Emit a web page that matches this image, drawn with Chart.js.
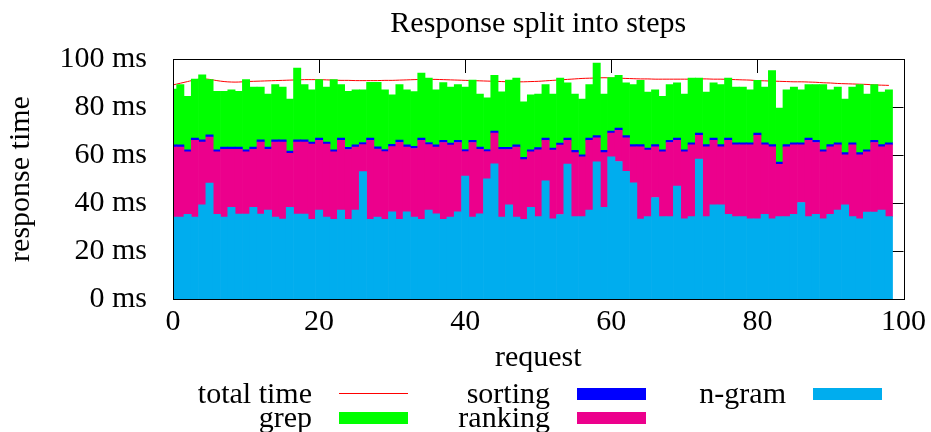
<!DOCTYPE html>
<html>
<head>
<meta charset="utf-8">
<script src="https://cdn.jsdelivr.net/npm/chart.js@4/dist/chart.umd.min.js"></script>
<style>
  html, body { margin: 0; padding: 0; background: #ffffff; }
  #wrap { width: 931px; height: 432px; position: relative; }
</style>
</head>
<body>
<div id="wrap"><canvas id="c" width="931" height="432"></canvas></div>
<script>
// ---- data ----
const requests = [0,1,2,3,4,5,6,7,8,9,10,11,12,13,14,15,16,17,18,19,20,21,22,23,24,25,26,27,28,29,30,31,32,33,34,35,36,37,38,39,40,41,42,43,44,45,46,47,48,49,50,51,52,53,54,55,56,57,58,59,60,61,62,63,64,65,66,67,68,69,70,71,72,73,74,75,76,77,78,79,80,81,82,83,84,85,86,87,88,89,90,91,92,93,94,95,96,97,98];

const ngram = [34.1,34.1,35.3,34.1,39.2,48.3,35.3,34.1,38.2,35.4,35.4,38.2,35.4,37.1,34.1,33.3,38.2,35.4,35.4,33.2,
  37.1,34.1,33.2,37.1,33.2,37.1,53.1,33.2,34.1,33.2,36.3,33.2,36.3,34.1,33.2,37.1,35.5,33.2,34.1,36.3,
  51.2,34.1,35.5,50.1,56.3,34.1,39.2,34.1,33.2,38.2,34.3,49.2,33.4,35.2,56.2,34.3,34.3,37.1,57.2,38.2,
  59.2,57.3,53.2,48.4,33.3,34.3,42.3,34.3,34.3,47.1,33.4,34.3,58.3,34.3,39.2,39.2,35.3,34.3,34.3,33.4,
  33.4,35.3,33.4,34.3,34.3,35.3,40.2,34.3,35.3,33.4,35.3,37.1,39.2,34.3,33.4,36.2,36.2,37.1,34.3];

const ranking = [29.2,29.2,26.0,32.0,26.2,19.2,26.0,28.3,24.2,27.0,25.9,24.2,30.0,25.3,31.3,32.1,22.5,30.0,30.0,31.3,
  29.0,30.4,28.1,29.0,29.1,26.2,11.2,32.9,28.4,28.2,27.2,32.1,27.0,28.6,32.9,27.2,27.8,32.0,30.0,28.9,
  10.2,31.1,26.9,11.3,12.8,28.2,23.1,29.2,24.9,23.1,27.9,16.9,28.6,28.9,9.9,26.7,24.9,29.0,10.0,22.8,
  9.9,13.0,14.0,15.0,30.1,27.7,21.1,27.0,30.9,19.0,27.9,29.9,9.9,29.1,26.9,24.2,30.8,29.9,29.9,30.8,
  34.8,28.9,30.0,21.8,29.1,28.9,24.0,31.8,29.9,27.9,28.1,27.1,20.9,29.9,26.7,25.1,29.0,26.3,29.9];

const sorting = [0.9,0.9,0.9,0.9,0.9,0.9,0.9,0.9,0.9,0.9,0.9,0.9,0.9,0.9,0.9,0.9,0.9,0.9,0.9,0.9,
  0.9,0.9,0.9,0.9,0.9,0.9,0.9,0.9,0.9,0.9,0.9,0.9,0.9,0.9,0.9,0.9,0.9,0.9,0.9,0.9,
  0.9,0.9,0.9,0.9,0.9,0.9,0.9,0.9,0.9,0.9,0.9,0.9,0.9,0.9,0.9,0.9,0.9,0.9,0.9,0.9,
  0.9,0.9,0.9,0.9,0.9,0.9,0.9,0.9,0.9,0.9,0.9,0.9,0.9,0.9,0.9,0.9,0.9,0.9,0.9,0.9,
  0.9,0.9,0.9,0.9,0.9,0.9,0.9,0.9,0.9,0.9,0.9,0.9,0.9,0.9,0.9,0.9,0.9,0.9,0.9];

const grep = [23.3,25.1,22.2,24.6,27.1,23.0,24.3,23.2,23.9,23.2,29.2,25.0,22.0,22.1,23.0,22.0,21.7,29.9,23.0,21.8,
  24.4,22.9,29.2,22.3,23.3,23.0,22.0,23.3,26.9,24.9,20.7,23.1,23.0,22.8,27.1,26.9,23.0,24.1,23.3,23.2,
  26.0,25.1,22.1,21.5,23.2,23.1,28.0,27.9,23.2,22.9,22.3,22.3,22.5,27.1,23.1,23.5,23.2,22.3,30.2,23.5,
  22.3,22.0,22.0,25.0,26.8,23.3,22.9,22.2,23.2,23.1,23.2,27.0,23.0,21.9,23.1,25.0,25.1,23.2,23.2,22.1,
  22.0,23.2,30.9,22.5,22.9,23.2,22.1,22.3,23.2,27.1,22.9,23.2,22.3,23.2,28.3,23.2,23.2,21.9,22.1];

const totalTime = [89.2,89.9,90.6,91.3,91.7,91.5,91.0,90.6,90.4,90.4,90.6,90.7,90.8,90.9,91.0,91.1,91.2,91.3,91.4,91.4,
  91.4,91.3,91.2,91.1,91.1,91.0,91.0,91.0,91.0,91.1,91.1,91.2,91.3,91.4,91.5,91.5,91.5,91.4,91.3,91.2,
  91.1,91.0,90.9,90.8,90.7,90.6,90.5,90.5,90.5,90.6,90.7,90.9,91.1,91.3,91.5,91.7,91.9,92.0,92.1,92.2,
  92.1,92.0,91.9,91.8,91.7,91.7,91.6,91.6,91.6,91.6,91.6,91.6,91.7,91.7,91.6,91.6,91.5,91.4,91.3,91.2,
  91.0,90.9,90.8,90.7,90.6,90.5,90.5,90.4,90.3,90.1,90.0,89.8,89.7,89.6,89.5,89.4,89.2,89.1,89.0];

const yTickLabels = {0: '0 ms', 20: '20 ms', 40: '40 ms', 60: '60 ms', 80: '80 ms', 100: '100 ms'};
const seriesNames = {total: 'total time', grep: 'grep', sorting: 'sorting', ranking: 'ranking', ngram: 'n-gram'};

// ---- styling ----
const FONT = '"Liberation Serif", "Times New Roman", serif';
const COLORS = { total: '#ff0000', grep: '#00ff00', sorting: '#0000ff', ranking: '#ec008c', ngram: '#00adee' };

function barDs(label, data, color) {
  return { type: 'bar', label, data, backgroundColor: color, borderWidth: 0,
           barPercentage: 1.0, categoryPercentage: 1.0, order: 1 };
}

const datasets = [
  barDs(seriesNames.ngram, ngram, COLORS.ngram),
  barDs(seriesNames.ranking, ranking, COLORS.ranking),
  barDs(seriesNames.sorting, sorting, COLORS.sorting),
  barDs(seriesNames.grep, grep, COLORS.grep),
  { type: 'line', label: seriesNames.total, data: totalTime, borderColor: COLORS.total,
    borderWidth: 1, pointRadius: 0, tension: 0.4, fill: false, stack: 'total', order: 2 }
];

// inward ticks (behind bars), border box, custom gnuplot-like legend
const framePlugin = {
  id: 'frame',
  beforeDatasetsDraw(chart) {
    const ctx = chart.ctx, a = chart.chartArea;
    const xs = chart.scales.x, ys = chart.scales.y;
    ctx.save();
    ctx.strokeStyle = '#000';
    ctx.lineWidth = 1;
    ctx.beginPath();
    xs.ticks.forEach(t => {
      const px = Math.round(xs.getPixelForValue(t.value)) + 0.5;
      ctx.moveTo(px, a.top); ctx.lineTo(px, a.top + 14);
      ctx.moveTo(px, a.bottom); ctx.lineTo(px, a.bottom - 14);
    });
    ys.ticks.forEach(t => {
      const py = Math.round(ys.getPixelForValue(t.value)) + 0.5;
      ctx.moveTo(a.right, py); ctx.lineTo(a.right - 14, py);
      ctx.moveTo(a.left, py); ctx.lineTo(a.left + 14, py);
    });
    ctx.stroke();
    ctx.restore();
  },
  afterDatasetsDraw(chart) {
    const ctx = chart.ctx, a = chart.chartArea;
    ctx.save();
    ctx.strokeStyle = '#000';
    ctx.lineWidth = 1;
    ctx.strokeRect(Math.round(a.left) + 0.5, Math.round(a.top) + 0.5,
                   Math.round(a.right - a.left), Math.round(a.bottom - a.top));
    ctx.restore();
  },
  afterDraw(chart) {
    const ctx = chart.ctx;
    const byLabel = {};
    chart.data.datasets.forEach(d => byLabel[d.label] = d);
    const order = [seriesNames.total, seriesNames.grep, seriesNames.sorting, seriesNames.ranking, seriesNames.ngram];
    const textRight = [312, 550, 786];
    const baseY = [403, 427];
    ctx.save();
    ctx.font = '30px ' + FONT;
    ctx.fillStyle = '#000';
    ctx.textAlign = 'right';
    ctx.textBaseline = 'alphabetic';
    order.forEach((name, i) => {
      const col = Math.floor(i / 2), row = i % 2;
      const d = byLabel[name];
      const tx = textRight[col], by = baseY[row];
      ctx.fillStyle = '#000';
      ctx.fillText(d.label, tx, by);
      const sx = tx + 27, sw = 69;
      if (d.type === 'line') {
        ctx.strokeStyle = d.borderColor;
        ctx.lineWidth = 1;
        ctx.beginPath();
        ctx.moveTo(sx, by - 9.5); ctx.lineTo(sx + sw, by - 9.5);
        ctx.stroke();
      } else {
        ctx.fillStyle = d.backgroundColor;
        ctx.fillRect(sx, by - 15, sw, 12);
      }
    });
    ctx.restore();
  }
};

new Chart(document.getElementById('c'), {
  data: { labels: requests, datasets },
  options: {
    responsive: false,
    animation: false,
    layout: { padding: { left: 0, right: 24, top: 0, bottom: 56 } },
    plugins: {
      legend: { display: false },
      tooltip: { enabled: false },
      title: {
        display: true, text: 'Response split into steps', fullSize: false,
        color: '#000', font: { family: FONT, size: 30, weight: 'normal', lineHeight: 1.2 },
        padding: { top: 6, bottom: 17 }
      }
    },
    scales: {
      x: {
        type: 'linear', stacked: true, min: 0, max: 100, offset: false,
        grid: { display: false, drawTicks: false },
        border: { display: false },
        ticks: { stepSize: 20, color: '#000', padding: 5, maxRotation: 0,
                 font: { family: FONT, size: 30, lineHeight: 1.2 } },
        title: { display: true, text: 'request', color: '#000',
                 font: { family: FONT, size: 30, lineHeight: 1.2 }, padding: { top: 0, bottom: 0 } },
        afterFit: s => { s.height = 77; }
      },
      y: {
        stacked: true, min: 0, max: 100,
        grid: { display: false, drawTicks: false },
        border: { display: false },
        ticks: { stepSize: 20, color: '#000', padding: 26,
                 font: { family: FONT, size: 30, lineHeight: 1.2 },
                 callback: v => yTickLabels[v] },
        title: { display: true, text: 'response time', color: '#000',
                 font: { family: FONT, size: 30, lineHeight: 1.2 }, padding: { top: 3, bottom: 0 } },
        afterFit: s => { s.width = 173; }
      }
    }
  },
  plugins: [framePlugin]
});
</script>
</body>
</html>
